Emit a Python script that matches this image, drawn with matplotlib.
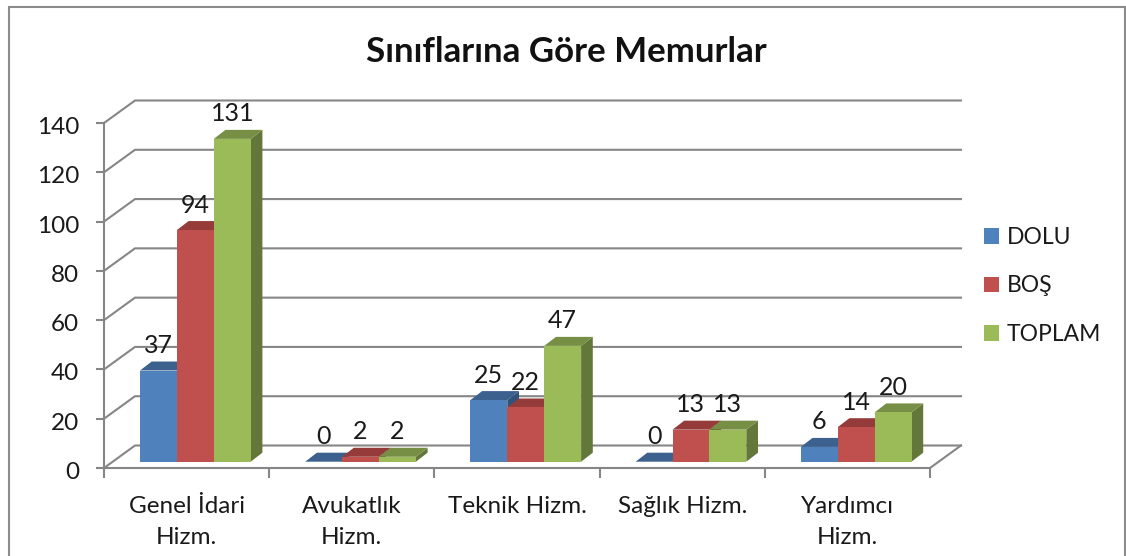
from __future__ import annotations

import matplotlib

matplotlib.use("Agg")

import matplotlib.pyplot as plt
from matplotlib.patches import Patch, Polygon, Rectangle
from matplotlib.transforms import ScaledTranslation

CATEGORIES = ["Genel İdari\nHizm.", "Avukatlık\nHizm.", "Teknik Hizm.", "Sağlık Hizm.", "Yardımcı\nHizm."]
DOLU = [37, 0, 25, 0, 6]
BOS = [94, 2, 22, 13, 14]
TOPLAM = [131, 2, 47, 13, 20]
SERIES_NAMES = ["DOLU", "BOŞ", "TOPLAM"]
Y_TICKS = [0, 20, 40, 60, 80, 100, 120, 140]

WIDTH, HEIGHT = 1126, 556
GREY = "#868686"
TEXT = "#1a1a1a"
FRONT = ["#4F81BD", "#C0504D", "#9BBB59"]
TOP = ["#3C618F", "#953C3A", "#778F44"]
SIDE = ["#335278", "#7A3130", "#64773A"]

# pixels per data unit of the front plane
PX_X = (930 - 104) / 5
PX_Y = (468 - 123) / 140

# wall depth, bar width/depth, bar inset from the front plane
WALL_DX, WALL_DY = 31 / PX_X, 22.5 / PX_Y
BAR_W = 36.9 / PX_X
BAR_DX, BAR_DY = 11.7 / PX_X, 9 / PX_Y
BAR_X0, BAR_Y0 = 36 / PX_X, 6.3 / PX_Y
LABEL_GAP = 25 / PX_Y


def _draw_walls(ax) -> None:
    for v in Y_TICKS:
        ax.plot(
            [0, WALL_DX, 5 + WALL_DX],
            [v, v + WALL_DY, v + WALL_DY],
            color=GREY, lw=1.5, clip_on=False, zorder=1, solid_joinstyle="miter",
        )
    ax.plot([5, 5 + WALL_DX], [0, WALL_DY], color=GREY, lw=1.5, clip_on=False, zorder=1)


def _draw_bar(ax, x: float, value: float, idx: int) -> None:
    y0 = BAR_Y0
    y1 = BAR_Y0 + value
    right = x + BAR_W
    side = [(right, y0), (right + BAR_DX, y0 + BAR_DY), (right + BAR_DX, y1 + BAR_DY), (right, y1)]
    top = [(x, y1), (x + BAR_DX, y1 + BAR_DY), (right + BAR_DX, y1 + BAR_DY), (right, y1)]
    z = 3 + idx
    ax.add_patch(Polygon(side, facecolor=SIDE[idx], edgecolor="none", clip_on=False, zorder=z))
    ax.add_patch(Polygon(top, facecolor=TOP[idx], edgecolor="none", clip_on=False, zorder=z))
    ax.add_patch(Rectangle((x, y0), BAR_W, value, facecolor=FRONT[idx], edgecolor="none", clip_on=False, zorder=z))
    ax.text(x + BAR_W / 2, y1 + LABEL_GAP, str(value), ha="center", va="center", fontsize=18, color=TEXT, zorder=10)


def main() -> None:
    plt.rcParams["font.family"] = ["Lato", "DejaVu Sans"]

    fig = plt.figure(figsize=(WIDTH / 100, HEIGHT / 100), dpi=100)
    ax = fig.add_axes([104 / WIDTH, 1 - 468 / HEIGHT, (930 - 104) / WIDTH, (468 - 123) / HEIGHT])
    ax.set_xlim(0, 5)
    ax.set_ylim(0, 140)
    ax.patch.set_visible(False)

    for name in ["top", "right"]:
        ax.spines[name].set_visible(False)
    for name in ["left", "bottom"]:
        ax.spines[name].set_color(GREY)
        ax.spines[name].set_linewidth(1.5)
        ax.spines[name].set_zorder(2)

    _draw_walls(ax)

    for idx, values in enumerate([DOLU, BOS, TOPLAM]):
        for i, value in enumerate(values):
            _draw_bar(ax, i + BAR_X0 + idx * BAR_W, value, idx)

    ax.set_yticks(Y_TICKS)
    ax.tick_params(axis="y", length=6, width=1.5, color=GREY, labelsize=17.5, labelcolor=TEXT, pad=12)
    # the original's value labels sit a little under their ticks
    nudge = ScaledTranslation(0, -2.5 / 100, fig.dpi_scale_trans)
    for label in ax.get_yticklabels():
        label.set_transform(label.get_transform() + nudge)
    ax.set_xticks(range(6))
    ax.set_xticklabels([])
    ax.tick_params(axis="x", which="major", length=7.5, width=1.5, color=GREY)
    ax.set_xticks([i + 0.5 for i in range(5)], minor=True)
    ax.set_xticklabels(CATEGORIES, minor=True, linespacing=1.6)
    ax.tick_params(axis="x", which="minor", length=0, labelsize=17.5, labelcolor=TEXT, pad=20)

    handles = [Patch(facecolor=c, edgecolor="none") for c in FRONT]
    ax.legend(
        handles, SERIES_NAMES,
        loc="center left",
        bbox_to_anchor=(984 / WIDTH, 1 - 286 / HEIGHT),
        bbox_transform=fig.transFigure,
        frameon=False,
        fontsize=16.5,
        handlelength=0.65,
        handleheight=0.65,
        handletextpad=0.35,
        labelspacing=1.2,
        borderaxespad=0,
        borderpad=0,
        labelcolor=TEXT,
    )

    fig.text(566 / WIDTH, 1 - 52 / HEIGHT, "Sınıflarına Göre Memurlar", ha="center", va="center",
             fontsize=25.1, fontweight="bold", color="#111111")

    # outer chart frame, runs off the bottom of the image
    fig.add_artist(Rectangle((8.5 / WIDTH, -0.1), (1124.5 - 8.5) / WIDTH, 1.1 - 6.5 / HEIGHT,
                             transform=fig.transFigure, fill=False, edgecolor="#8c8c8c", lw=1.5, clip_on=True))

    fig.savefig("out.png", dpi=100)
    plt.close(fig)


if __name__ == "__main__":
    main()
